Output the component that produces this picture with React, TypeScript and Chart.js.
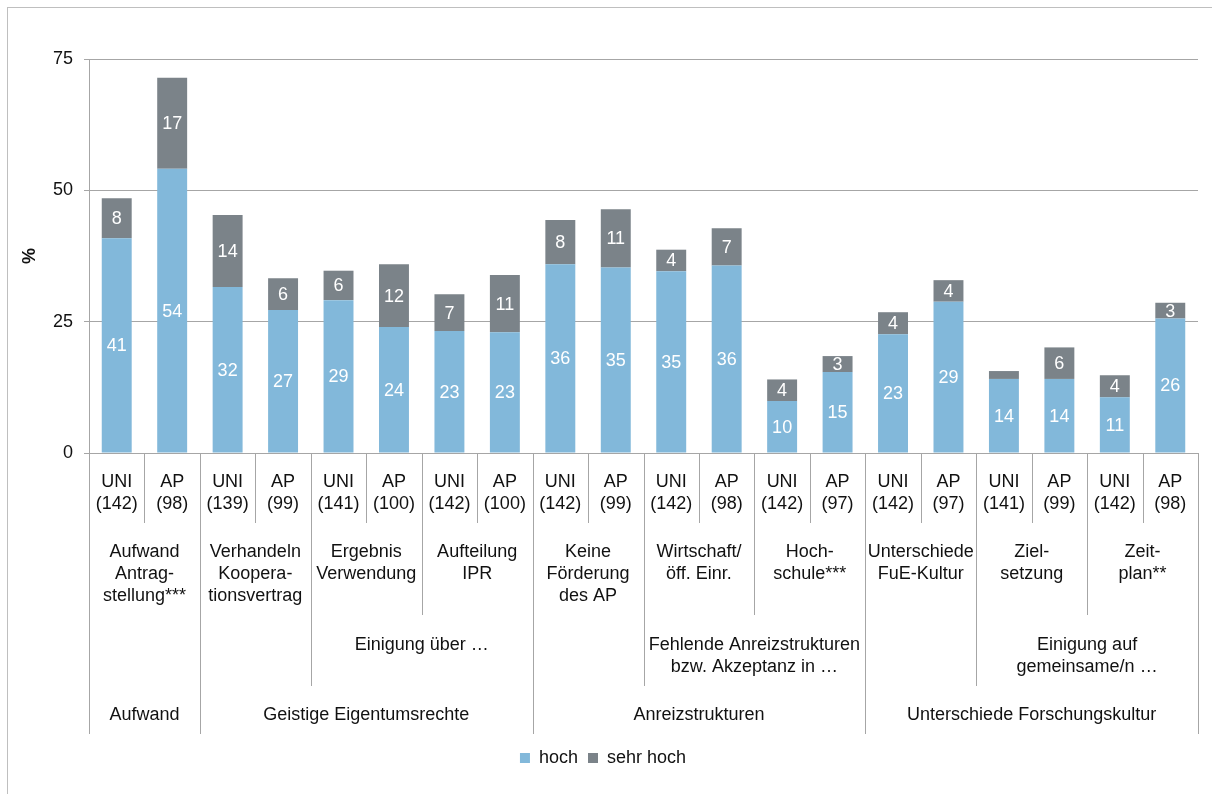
import React, { useEffect, useRef } from "react";
import { Chart, registerables } from "chart.js";

Chart.register(...registerables);

// ---- Data ----
const respondents = ["UNI", "AP", "UNI", "AP", "UNI", "AP", "UNI", "AP", "UNI", "AP", "UNI", "AP", "UNI", "AP", "UNI", "AP", "UNI", "AP", "UNI", "AP"];
const sampleSizes = ["(142)", "(98)", "(139)", "(99)", "(141)", "(100)", "(142)", "(100)", "(142)", "(99)", "(142)", "(98)", "(142)", "(97)", "(142)", "(97)", "(141)", "(99)", "(142)", "(98)"];

const hoch = [40.9, 54.1, 31.6, 27.2, 29.1, 24.0, 23.2, 23.0, 35.95, 35.3, 34.6, 35.7, 9.9, 15.4, 22.6, 28.8, 14.1, 14.1, 10.6, 25.6];
const sehrHoch = [7.6, 17.35, 13.7, 6.05, 5.6, 11.95, 7.0, 10.9, 8.4, 11.1, 4.1, 7.1, 4.1, 3.05, 4.2, 4.1, 1.5, 6.0, 4.2, 3.0];

// second level: one item per pair of bars
const items: string[][] = [
  ["Aufwand", "Antrag-", "stellung***"],
  ["Verhandeln", "Koopera-", "tionsvertrag"],
  ["Ergebnis", "Verwendung"],
  ["Aufteilung", "IPR"],
  ["Keine", "Förderung", "des AP"],
  ["Wirtschaft/", "öff. Einr."],
  ["Hoch-", "schule***"],
  ["Unterschiede", "FuE-Kultur"],
  ["Ziel-", "setzung"],
  ["Zeit-", "plan**"],
];

// third level: [label lines, number of bars]
const subGroups: [string[], number][] = [
  [[], 2],
  [[], 2],
  [["Einigung über …"], 4],
  [[], 2],
  [["Fehlende Anreizstrukturen", "bzw. Akzeptanz in …"], 4],
  [[], 2],
  [["Einigung auf", "gemeinsame/n …"], 4],
];

// top level: [label, number of bars]
const mainGroups: [string, number][] = [
  ["Aufwand", 2],
  ["Geistige Eigentumsrechte", 6],
  ["Anreizstrukturen", 6],
  ["Unterschiede Forschungskultur", 6],
];

const seriesNames = ["hoch", "sehr hoch"];
const yTicks = [0, 25, 50, 75];

const BLUE = "#82B8DA";
const GREY = "#7B8389";
const LINE = "#a6a6a6";
const FONT = '"Liberation Sans", Arial, sans-serif';

const multiLevelPlugin = {
  id: "multiLevel",
  afterDraw(chart: any) {
    const ctx = chart.ctx as CanvasRenderingContext2D;
    const xs = chart.scales.x;
    const area = chart.chartArea;
    const n = chart.data.labels.length;
    const w = (xs.right - xs.left) / n;
    const bx = (i: number) => xs.left + i * w;
    const base = area.bottom;

    const b3 = new Set<number>([0]);
    let acc = 0;
    subGroups.forEach(([, c]) => { acc += c; b3.add(acc); });
    const b4 = new Set<number>([0]);
    acc = 0;
    mainGroups.forEach(([, c]) => { acc += c; b4.add(acc); });
    const per2 = n / items.length;

    ctx.save();
    ctx.strokeStyle = LINE;
    ctx.lineWidth = 1;
    for (let i = 0; i <= n; i++) {
      let depth = 70;
      if (b4.has(i)) depth = 281;
      else if (b3.has(i)) depth = 233;
      else if (i % per2 === 0) depth = 162;
      const x = Math.round(bx(i)) + 0.5;
      ctx.beginPath();
      ctx.moveTo(x, base);
      ctx.lineTo(x, base + depth);
      ctx.stroke();
    }

    ctx.fillStyle = "#111";
    ctx.font = `18px ${FONT}`;
    ctx.textAlign = "center";
    ctx.textBaseline = "middle";
    for (let i = 0; i < n; i++) {
      const cx = bx(i + 0.5);
      ctx.fillText(respondents[i], cx, base + 29);
      ctx.fillText(sampleSizes[i], cx, base + 51);
    }
    items.forEach((lines, k) => {
      const cx = bx(k * per2 + per2 / 2);
      lines.forEach((l, j) => ctx.fillText(l, cx, base + 99 + j * 22));
    });
    let s = 0;
    subGroups.forEach(([lines, c]) => {
      const cx = bx(s + c / 2);
      lines.forEach((l, j) => ctx.fillText(l, cx, base + 192 + j * 22));
      s += c;
    });
    s = 0;
    mainGroups.forEach(([label, c]) => {
      ctx.fillText(label, bx(s + c / 2), base + 262);
      s += c;
    });

    // y axis title
    ctx.save();
    ctx.translate(22.5, (area.top + area.bottom) / 2);
    ctx.rotate(-Math.PI / 2);
    ctx.font = `bold 18px ${FONT}`;
    ctx.fillText("%", 0, 0);
    ctx.restore();

    ctx.restore();
  },
};

const valueLabelPlugin = {
  id: "valueLabels",
  afterDatasetsDraw(chart: any) {
    const ctx = chart.ctx as CanvasRenderingContext2D;
    ctx.save();
    ctx.fillStyle = "#ffffff";
    ctx.font = `18px ${FONT}`;
    ctx.textAlign = "center";
    ctx.textBaseline = "middle";
    chart.data.datasets.forEach((ds: any, di: number) => {
      const meta = chart.getDatasetMeta(di);
      meta.data.forEach((el: any, i: number) => {
        const v = ds.data[i];
        if (v < 2) return;
        ctx.fillText(String(Math.round(v)), el.x, (el.y + el.base) / 2 + 1);
      });
    });
    ctx.restore();
  },
};

export default function App() {
  const ref = useRef<HTMLCanvasElement | null>(null);

  useEffect(() => {
    if (!ref.current) return;
    const chart = new Chart(ref.current, {
      type: "bar",
      data: {
        labels: respondents.map((r, i) => `${r} ${sampleSizes[i]}`),
        datasets: [
          { label: seriesNames[0], data: hoch, backgroundColor: BLUE, borderWidth: 0 },
          { label: seriesNames[1], data: sehrHoch, backgroundColor: GREY, borderWidth: 0 },
        ],
      },
      options: {
        responsive: false,
        animation: false,
        layout: { padding: { top: 51, right: 6, left: 0, bottom: 9 } },
        datasets: { bar: { barPercentage: 0.54, categoryPercentage: 1 } },
        plugins: {
          legend: {
            position: "bottom",
            labels: {
              boxWidth: 10,
              boxHeight: 10,
              padding: 10,
              color: "#111",
              font: { family: FONT, size: 18 },
            },
          },
          tooltip: { enabled: false },
        },
        scales: {
          x: {
            stacked: true,
            grid: { display: false },
            border: { display: true, color: LINE, width: 1 },
            ticks: { display: false },
            afterFit: (scale: any) => { scale.height = 286; },
          },
          y: {
            stacked: true,
            min: 0,
            max: 75,
            afterBuildTicks: (scale: any) => { scale.ticks = yTicks.map((v) => ({ value: v })); },
            grid: { color: LINE, lineWidth: 1, tickLength: 5, drawTicks: true },
            border: { display: true, color: LINE, width: 1 },
            ticks: {
              padding: 11,
              color: "#111",
              font: { family: FONT, size: 18 },
            },
            afterFit: (scale: any) => { scale.width = 81; },
          },
        },
      },
      plugins: [valueLabelPlugin, multiLevelPlugin],
    });
    return () => chart.destroy();
  }, []);

  return (
    <div style={{ position: "relative", width: 1196, height: 778 }}>
      <div
        style={{
          position: "fixed",
          left: 7,
          top: 7,
          width: 1300,
          height: 900,
          borderLeft: "1px solid #bfbfbf",
          borderTop: "1px solid #bfbfbf",
          pointerEvents: "none",
        }}
      />
      <canvas ref={ref} width={1196} height={778} style={{ display: "block" }} />
    </div>
  );
}
